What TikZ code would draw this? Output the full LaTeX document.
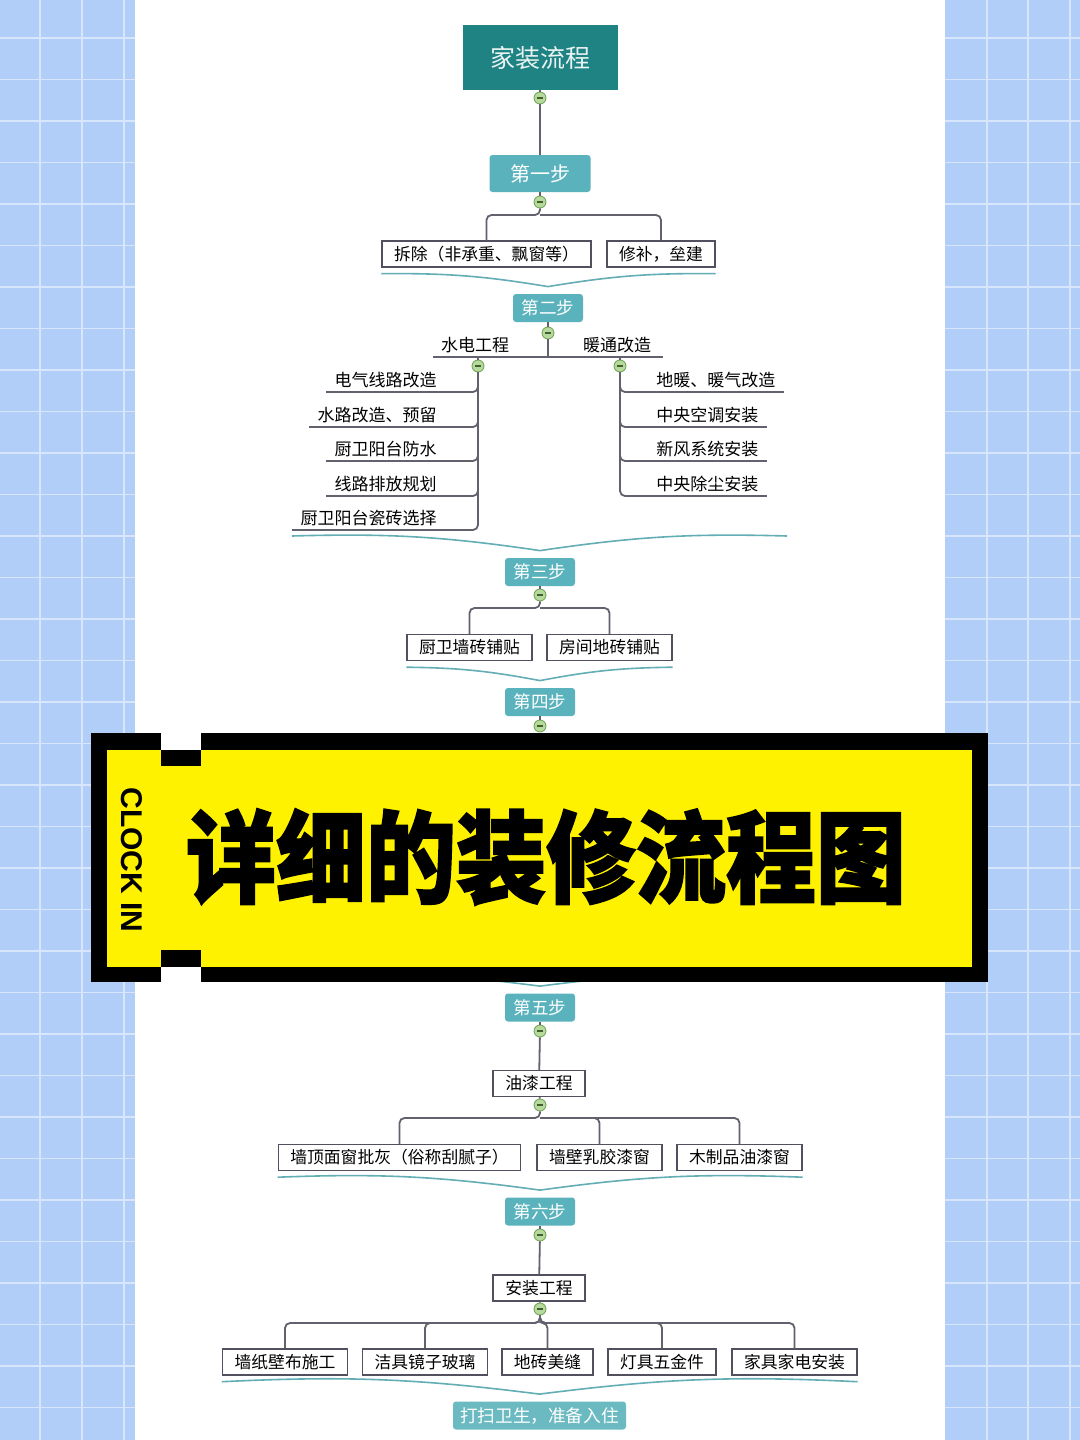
\documentclass[tikz,border=0pt]{standalone}
\usepackage{fontspec}
\setmainfont{Noto Sans CJK SC}
\newfontfamily\titlefont{Noto Sans CJK SC}[BoldFeatures={FakeBold=2}]
\newfontfamily\clockfont{Liberation Sans}

\definecolor{rootteal}{HTML}{1F8383}
\definecolor{stepteal}{HTML}{5AB3BC}
\definecolor{endteal}{HTML}{6BBAC2}
\definecolor{mergeteal}{HTML}{62AEB4}
\definecolor{linkgray}{HTML}{62626E}
\definecolor{boxgray}{HTML}{50505E}
\definecolor{foldgreen}{HTML}{B6D99C}
\definecolor{foldedge}{HTML}{6E9F52}
\definecolor{panelblue}{HTML}{B1CEF8}
\definecolor{banneryellow}{HTML}{FFF200}

\newcommand{\fsz}[1]{\fontsize{#1}{#1}\selectfont}

\tikzset{
    rootbox/.style  = {fill=rootteal, text=white!90!rootteal, minimum width=77.5pt, minimum height=32.5pt, inner sep=0pt, font=\fsz{12.5pt}},
    stepbox/.style  = {fill=stepteal, text=white, rounded corners=1.5pt, minimum width=35pt, minimum height=14pt, inner sep=0pt, font=\fsz{8.8pt}},
    endbox/.style   = {stepbox, fill=endteal, minimum width=86.5pt},
    leafbox/.style  = {draw=boxgray, line width=0.7pt, fill=white, inner xsep=6pt, inner ysep=0pt, minimum height=13pt, font=\fsz{8.4pt}},
    ulabel/.style   = {inner xsep=4pt, inner ysep=2pt, font=\fsz{8.5pt}},
    fold/.style     = {circle, draw=foldedge, fill=foldgreen, line width=0.4pt, minimum size=6pt, inner sep=0pt,
                       path picture={\draw[foldedge!60!black, line width=0.6pt]
                       ([xshift=-1.5pt]path picture bounding box.center) -- ([xshift=1.5pt]path picture bounding box.center);}},
    link/.style     = {draw=linkgray, line width=0.9pt, rounded corners=2.5pt},
    merge/.style    = {draw=mergeteal, line width=0.8pt},
    gridline/.style = {draw=white!50!panelblue, line width=0.8pt}
}

\begin{document}
\begin{tikzpicture}[x = 0.5pt, y = -0.5pt]
        \useasboundingbox (0,0) rectangle (1080,1440);

        % background
        \fill[white] (0,0) rectangle (1080,1440);
        \fill[panelblue] (0,0) rectangle (135,1440);
        \fill[panelblue] (945,0) rectangle (1080,1440);
        \foreach \gx in {40,82,124,987,1028,1070}
            \draw[gridline] (\gx,0) -- (\gx,1440);
        \foreach \gy in {38,79.5,...,1440}
            \draw[gridline] (0,\gy) -- (135,\gy) (945,\gy) -- (1080,\gy);

        % root and first step
        \node[rootbox] (root) at (540,57.5) {家装流程};
        \node[fold] (f0) at (540,98) {};
        \node[stepbox, minimum width=50.5pt, minimum height=18.5pt, font=\fsz{10pt}] (s1) at (540,173.5) {第一步};
        \node[fold] (f1) at (540,202) {};
        \node[leafbox] (c11) at (486.5,254) {拆除（非承重、飘窗等）};
        \node[leafbox] (c12) at (661,254) {修补，垒建};
        \coordinate (b1) at (540,215);

        \draw[link] (root) -- (f0);
        \draw[link] (f0) -- (s1);
        \draw[link] (s1) -- (f1);
        \draw[link] (f1) -- (b1) -| (c11);
        \draw[link] (b1) -| (c12);

        % second step
        \node[stepbox] (s2) at (548,308) {第二步};
        \draw[merge] ([yshift=-3pt]c11.south west) to[bend left=5] ([yshift=3.5pt]s2.north)
                     to[bend left=5] ([yshift=-3pt]c12.south east);
        \node[fold] (f2) at (548,333) {};
        \coordinate (h2) at (548,357);
        \coordinate (h2l) at (433,357);
        \coordinate (h2r) at (663,357);
        \node[ulabel, anchor=south] (sd) at (475,357) {水电工程};
        \node[ulabel, anchor=south] (nt) at (617,357) {暖通改造};
        \node[fold] (f3) at (478,366) {};
        \node[fold] (f4) at (620,366) {};

        \draw[link] (s2) -- (f2);
        \draw[link] (f2) -- (h2);
        \draw[link] (h2l) -- (h2r);
        \draw[link] (f3.north) -- (f3.north |- h2);
        \draw[link] (f4.north) -- (f4.north |- h2);

        \node[ulabel, anchor=south east] (e1) at (445,392) {电气线路改造};
        \node[ulabel, anchor=south east] (e2) at (445,427) {水路改造、预留};
        \node[ulabel, anchor=south east] (e3) at (445,461) {厨卫阳台防水};
        \node[ulabel, anchor=south east] (e4) at (445,496) {线路排放规划};
        \node[ulabel, anchor=south east] (e5) at (445,530) {厨卫阳台瓷砖选择};
        \foreach \k in {1,...,5}
            \draw[link] (f3.south) |- (e\k.south west);

        \node[ulabel, anchor=south west] (r1) at (648,392) {地暖、暖气改造};
        \node[ulabel, anchor=south west] (r2) at (648,427) {中央空调安装};
        \node[ulabel, anchor=south west] (r3) at (648,461) {新风系统安装};
        \node[ulabel, anchor=south west] (r4) at (648,496) {中央除尘安装};
        \foreach \k in {1,...,4}
            \draw[link] (f4.south) |- (r\k.south east);

        % third step
        \node[stepbox] (s3) at (540,572) {第三步};
        \coordinate (m2l) at (292,536);
        \coordinate (m2r) at (787,536);
        \draw[merge] (m2l) to[bend left=5] ([yshift=3.5pt]s3.north) to[bend left=5] (m2r);
        \node[fold] (f5) at (540,595) {};
        \coordinate (b3) at (540,608);
        \node[leafbox] (c31) at (469.5,647.5) {厨卫墙砖铺贴};
        \node[leafbox] (c32) at (609.5,647.5) {房间地砖铺贴};
        \draw[link] (s3) -- (f5);
        \draw[link] (f5) -- (b3) -| (c31);
        \draw[link] (b3) -| (c32);

        % fourth step
        \node[stepbox] (s4) at (540,702) {第四步};
        \draw[merge] ([yshift=-3pt]c31.south west) to[bend left=5] ([yshift=3.5pt]s4.north)
                     to[bend left=5] ([yshift=-3pt]c32.south east);
        \node[fold] (f6) at (540,726) {};
        \draw[link] (s4) -- (f6);

        % fifth step
        \node[stepbox] (s5) at (540,1007.5) {第五步};
        \coordinate (m4l) at (170,972);
        \coordinate (m4r) at (910,972);
        \draw[merge] (m4l) to[bend left=5] ([yshift=3.5pt]s5.north) to[bend left=5] (m4r);
        \node[fold] (f7) at (540,1031) {};
        \node[leafbox, minimum width=46pt] (p0) at (539,1083.5) {油漆工程};
        \node[fold] (f8) at (540,1105) {};
        \coordinate (b5) at (540,1118);
        \node[leafbox] (c51) at (399.5,1157.5) {墙顶面窗批灰（俗称刮腻子）};
        \node[leafbox] (c52) at (599.5,1157.5) {墙壁乳胶漆窗};
        \node[leafbox] (c53) at (739.5,1157.5) {木制品油漆窗};
        \draw[link] (s5) -- (f7);
        \draw[link] (f7) -- (p0);
        \draw[link] (p0) -- (f8);
        \draw[link] (f8) -- (b5) -| (c51);
        \draw[link] (b5) -| (c52);
        \draw[link] (b5) -| (c53);

        % sixth step
        \node[stepbox] (s6) at (540,1211.5) {第六步};
        \draw[merge] ([yshift=-3pt]c51.south west) to[bend left=5] ([yshift=3.5pt]s6.north)
                     to[bend left=5] ([yshift=-3pt]c53.south east);
        \node[fold] (f9) at (540,1235) {};
        \node[leafbox, minimum width=46pt] (q0) at (539,1288) {安装工程};
        \node[fold] (f10) at (540,1309) {};
        \coordinate (b6) at (540,1323);
        \node[leafbox] (c61) at (285,1362) {墙纸壁布施工};
        \node[leafbox] (c62) at (425,1362) {洁具镜子玻璃};
        \node[leafbox] (c63) at (547.5,1362) {地砖美缝};
        \node[leafbox] (c64) at (662,1362) {灯具五金件};
        \node[leafbox] (c65) at (794.5,1362) {家具家电安装};
        \draw[link] (s6) -- (f9);
        \draw[link] (f9) -- (q0);
        \draw[link] (q0) -- (f10);
        \foreach \k in {1,...,5}
            \draw[link] (f10) -- (b6) -| (c6\k);

        % last step
        \node[endbox] (fin) at (539.5,1415.5) {打扫卫生，准备入住};
        \draw[merge] ([yshift=-3pt]c61.south west) to[bend left=5] ([yshift=3.5pt]fin.north)
                     to[bend left=5] ([yshift=-3pt]c65.south east);

        % banner
        \fill[black] (91,733) rectangle (988,982);
        \fill[banneryellow] (107,750) rectangle (972,967);
        \fill[white] (161,733) rectangle (201,750);
        \fill[white] (161,967) rectangle (201,982);
        \fill[black] (161,750) rectangle (201,766);
        \fill[black] (161,950) rectangle (201,967);
        \node[inner sep=0pt, xscale=0.9, font=\fsz{50pt}] (headline) at (546,857) {\titlefont\bfseries 详细的装修流程图};
        \node[inner sep=0pt, rotate=-90, font=\fsz{15pt}] (clockin) at (132,860) {\clockfont\bfseries CLOCK IN};

\end{tikzpicture}
\end{document}
